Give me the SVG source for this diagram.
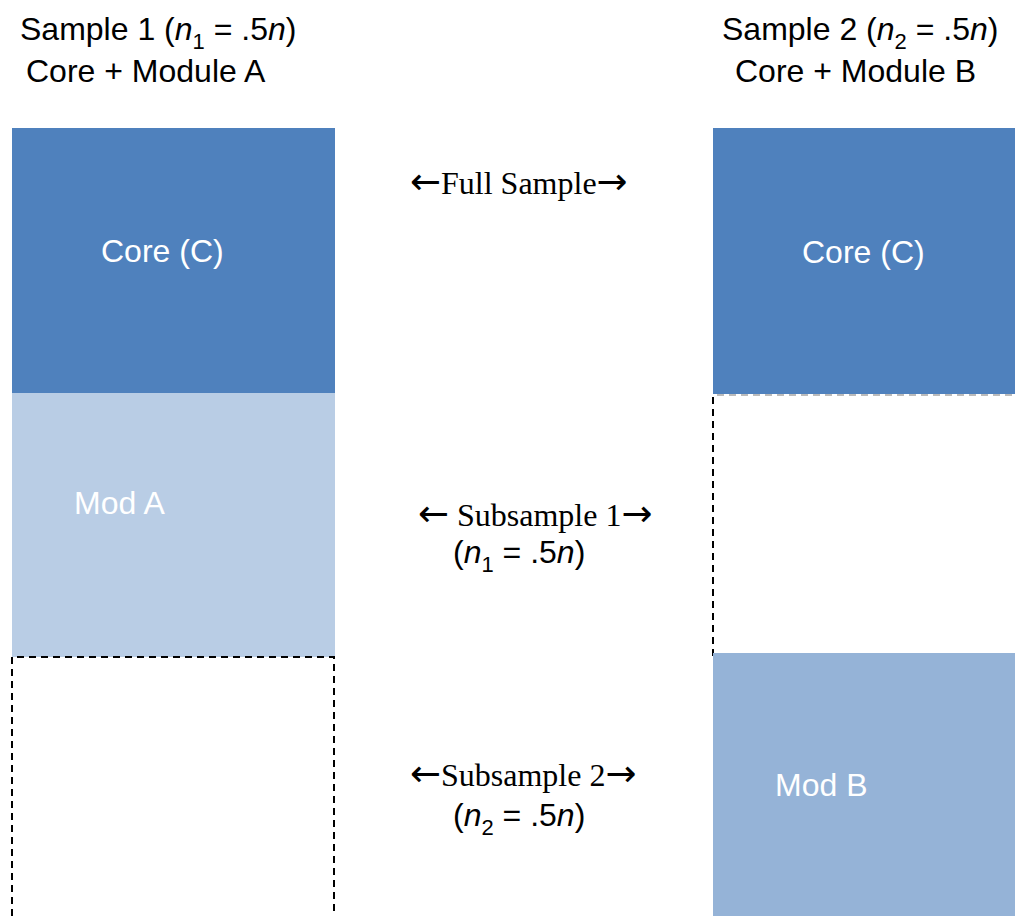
<svg xmlns="http://www.w3.org/2000/svg" width="1015" height="916" viewBox="0 0 1015 916">
<style>
.sans{font-family:"Liberation Sans",Arial,sans-serif;font-size:32px;fill:#000}
.serif{font-family:"Liberation Serif","Times New Roman",serif;font-size:32px;fill:#000}
.ar{font-family:"DejaVu Sans",sans-serif;font-size:37px}
.w{fill:#fff}
.dash{stroke:#000;stroke-width:2;stroke-dasharray:7,5;fill:none}
.dashg{stroke:#bbb;stroke-width:2;stroke-dasharray:7,5;fill:none}
.sub{font-size:22px}
</style>
<rect width="1015" height="916" fill="#fff"/>
<g id="title1">
<text class="sans" x="20" y="40">Sample 1 (<tspan font-style="italic">n</tspan><tspan class="sub" dy="9">1</tspan><tspan dy="-9"> = .5</tspan><tspan font-style="italic">n</tspan>)</text>
<text class="sans" x="26" y="82">Core + Module A</text>
</g>
<g id="title2">
<text class="sans" x="722" y="40">Sample 2 (<tspan font-style="italic">n</tspan><tspan class="sub" dy="9">2</tspan><tspan dy="-9"> = .5</tspan><tspan font-style="italic">n</tspan>)</text>
<text class="sans" x="735" y="82">Core + Module B</text>
</g>
<g id="core1">
<rect x="12" y="128" width="323" height="265" fill="#4F81BD"/>
<text class="sans w" x="101" y="262">Core (C)</text>
</g>
<g id="modA">
<rect x="12" y="393" width="323" height="264" fill="#B9CDE5"/>
<text class="sans w" x="74" y="514">Mod A</text>
</g>
<g id="empty1">
<path class="dash" d="M12,916 V657 H334 V916"/>
</g>
<g id="core2">
<rect x="713" y="128" width="302" height="266" fill="#4F81BD"/>
<text class="sans w" x="802" y="263">Core (C)</text>
</g>
<g id="empty2">
<path class="dashg" d="M717,395 H1015"/>
<path class="dash" d="M713,397 V657"/>
</g>
<g id="modB">
<rect x="713" y="653" width="302" height="263" fill="#95B3D7"/>
<text class="sans w" x="775" y="796">Mod B</text>
</g>
<g id="labels">
<text class="serif" x="410" y="194"><tspan class="ar">←</tspan>Full Sample<tspan class="ar">→</tspan></text>
<text class="serif" x="418" y="526"><tspan class="ar">←</tspan> Subsample 1<tspan class="ar">→</tspan></text>
<text class="sans" x="453" y="563">(<tspan font-style="italic">n</tspan><tspan class="sub" dy="9">1</tspan><tspan dy="-9"> = .5</tspan><tspan font-style="italic">n</tspan>)</text>
<text class="serif" x="410" y="786"><tspan class="ar">←</tspan>Subsample 2<tspan class="ar">→</tspan></text>
<text class="sans" x="453" y="826">(<tspan font-style="italic">n</tspan><tspan class="sub" dy="9">2</tspan><tspan dy="-9"> = .5</tspan><tspan font-style="italic">n</tspan>)</text>
</g>
<g id="connectors"></g>
</svg>
